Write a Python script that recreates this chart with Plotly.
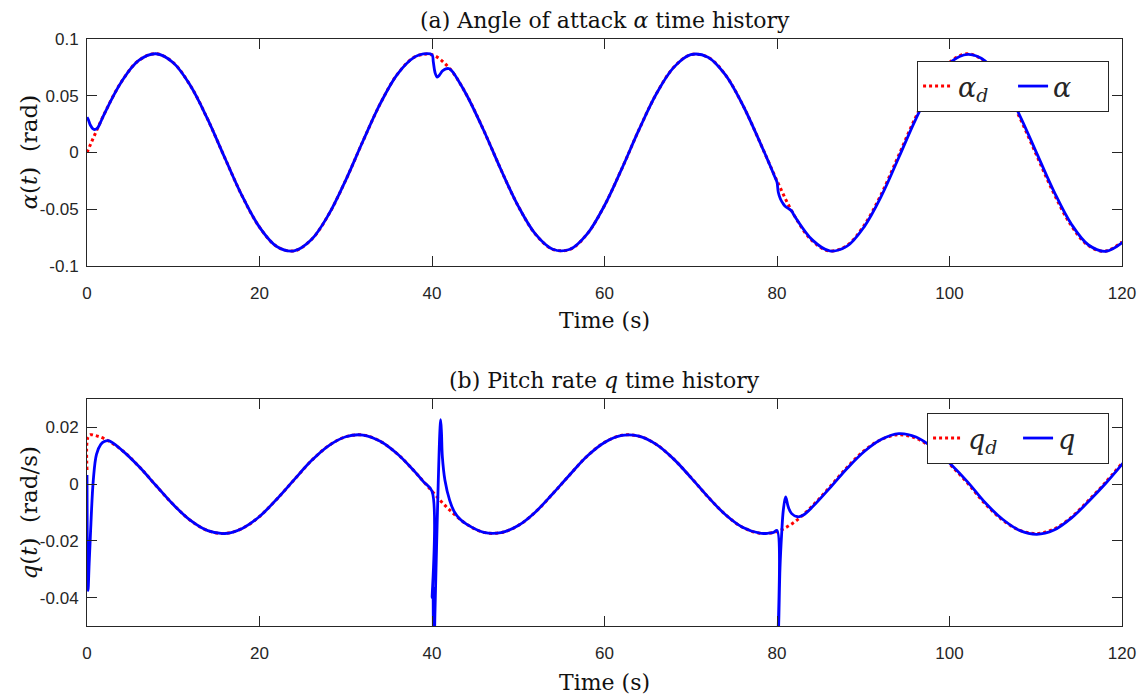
import plotly.graph_objects as go

# ---------------- data ----------------
# (a) desired angle of attack alpha_d (rad)
t_alpha_d = [0, 2, 4, 6, 8, 10, 12, 14, 16, 18, 20, 22, 24, 26, 28, 30, 32, 34, 36, 38,
             40, 42, 44, 46, 48, 50, 52, 54, 56, 58, 60, 62, 64, 66, 68, 70, 72, 74, 76, 78,
             80, 82, 84, 86, 88, 90, 92, 94, 96, 98, 100, 102, 104, 106, 108, 110, 112, 114, 116, 118, 120]
alpha_d = [0.0, 0.0339, 0.0624, 0.0811, 0.0870, 0.0791, 0.0588, 0.0291, -0.0051, -0.0385,
           -0.0658, -0.0828, -0.0867, -0.0769, -0.0549, -0.0243, 0.0101, 0.0430, 0.0691, 0.0842,
           0.0861, 0.0744, 0.0509, 0.0194, -0.0152, -0.0473, -0.0720, -0.0853, -0.0853, -0.0717,
           -0.0467, -0.0144, 0.0201, 0.0515, 0.0748, 0.0862, 0.0840, 0.0686, 0.0423, 0.0094,
           -0.0250, -0.0555, -0.0772, -0.0867, -0.0825, -0.0653, -0.0381, -0.0044, 0.0299, 0.0593,
           0.0794, 0.0869, 0.0808, 0.0617, 0.0330, -0.0008, -0.0345, -0.0630, -0.0815, -0.0870, -0.0788]

# (a) actual angle of attack alpha (rad)
t_alpha = [0, 0.15, 0.4, 0.7, 0.95, 1.2, 1.5, 2,
           4, 6, 8, 10, 12, 14, 16, 18, 20, 22, 24, 26, 28, 30, 32, 34, 36, 38,
           39, 40, 40.15, 40.35, 40.6, 40.85, 41.2, 41.6, 42, 42.5, 43,
           44, 46, 48, 50, 52, 54, 56, 58, 60, 62, 64, 66, 68, 70, 72, 74, 76, 78,
           79, 79.8, 80, 80.15, 80.4, 80.7, 80.95, 81.3, 81.7, 82,
           84.12, 86.12, 88.12, 90.12, 92.12, 94.12, 96.12, 98.12, 100.12, 102.12, 104.12,
           106.12, 108.12, 110.12, 112.12, 114.12, 116.12, 118.12, 120.12]
alpha = [0.031, 0.029, 0.024, 0.0208, 0.0203, 0.0213, 0.0255, 0.0339,
         0.0624, 0.0811, 0.0870, 0.0791, 0.0588, 0.0291, -0.0051, -0.0385, -0.0658, -0.0828,
         -0.0867, -0.0769, -0.0549, -0.0243, 0.0101, 0.0430, 0.0691, 0.0842,
         0.0869, 0.0862, 0.0800, 0.0705, 0.0665, 0.0680, 0.0718, 0.0737, 0.0738, 0.0700, 0.0640,
         0.0509, 0.0194, -0.0152, -0.0473, -0.0720, -0.0853, -0.0853, -0.0717, -0.0467, -0.0144,
         0.0201, 0.0515, 0.0748, 0.0862, 0.0840, 0.0686, 0.0423, 0.0094,
         -0.0080, -0.0225, -0.0262, -0.0350, -0.0410, -0.0450, -0.0474, -0.0492, -0.0515, -0.0555,
         -0.0772, -0.0867, -0.0825, -0.0653, -0.0381, -0.0044, 0.0299, 0.0593, 0.0794, 0.0864,
         0.0808, 0.0617, 0.0330, -0.0008, -0.0345, -0.0630, -0.0815, -0.0870, -0.0788]

# (b) desired pitch rate q_d (rad/s)
t_q_d = [0, 0.1, 0.4, 1, 2, 4, 6, 8, 10, 12, 14, 16, 18, 20, 22, 24, 26, 28, 30, 32, 34, 36, 38,
         40, 42, 44, 46, 48, 50, 52, 54, 56, 58, 60, 62, 64, 66, 68, 70, 72, 74, 76, 78,
         80, 82, 84, 86, 88, 90, 92, 94, 96, 98, 100, 102, 104, 106, 108, 110, 112, 114, 116, 118, 120]
q_d = [0.005, 0.0165, 0.0174, 0.0171, 0.0160, 0.0121, 0.0063, -0.0005, -0.0072, -0.0128,
       -0.0164, -0.0174, -0.0156, -0.0114, -0.0053, 0.0015, 0.0082, 0.0135, 0.0167, 0.0173,
       0.0151, 0.0106, 0.0044, -0.0025, -0.0090, -0.0141, -0.0170, -0.0171, -0.0146, -0.0098,
       -0.0034, 0.0034, 0.0099, 0.0147, 0.0172, 0.0169, 0.0140, 0.0089, 0.0024, -0.0045,
       -0.0107, -0.0152, -0.0173, -0.0167, -0.0134, -0.0080, -0.0014, 0.0055, 0.0115, 0.0156,
       0.0174, 0.0163, 0.0127, 0.0071, 0.0007, -0.0065, -0.0123, -0.0161, -0.0174, -0.0160,
       -0.0120, -0.0061, 0.0003, 0.0074]

# (b) actual pitch rate q (rad/s)
t_q = [0, 0.12, 0.25, 0.42, 0.73, 1.1, 1.6, 2.0, 2.5,
       4, 6, 8, 10, 12, 14, 16, 18, 20, 22, 24, 26, 28, 30, 32, 34, 36, 38,
       39, 40, 40.02, 40.1, 40.2, 40.34, 40.53, 40.73, 40.92, 41.0, 41.1, 41.2, 41.5,
       42.05, 42.6, 43.2,
       44, 46, 48, 50, 52, 54, 56, 58, 60, 62, 64, 66, 68, 70, 72, 74, 76, 78,
       79, 79.6, 80.0, 80.04, 80.19, 80.35, 80.54, 80.73, 81.0, 81.3, 81.7, 82.4, 83.0,
       84.12, 86.12, 88.12, 90.12, 92.12, 94.12, 96.12, 98.12, 100.12, 102.12, 104.12,
       106.12, 108.12, 110.12, 112.12, 114.12, 116.12, 118.12, 120.12]
q = [0.0032, -0.0375, -0.0280, -0.0163, 0.0014, 0.0105, 0.0140, 0.0150, 0.0153,
     0.0121, 0.0063, -0.0005, -0.0072, -0.0128, -0.0164, -0.0174, -0.0156, -0.0114, -0.0053,
     0.0015, 0.0082, 0.0135, 0.0167, 0.0173, 0.0151, 0.0106, 0.0044,
     0.0009, -0.0025, -0.0400, -0.0360, -0.0680, -0.0457, -0.0222, 0.0014, 0.0191, 0.0227,
     0.0180, 0.0097, 0.0014, -0.0057, -0.0098, -0.0122,
     -0.0141, -0.0170, -0.0171, -0.0146, -0.0098, -0.0034, 0.0034, 0.0099, 0.0147, 0.0172,
     0.0169, 0.0140, 0.0089, 0.0024, -0.0045, -0.0107, -0.0152, -0.0173,
     -0.0173, -0.0170, -0.0163, -0.0620, -0.0500, -0.0293, -0.0175, -0.0092, -0.0045,
     -0.0080, -0.0104, -0.0115, -0.0110,
     -0.0080, -0.0014, 0.0055, 0.0115, 0.0158, 0.0178, 0.0166, 0.0127, 0.0071, 0.0007,
     -0.0065, -0.0123, -0.0163, -0.0177, -0.0162, -0.0120, -0.0061, 0.0003, 0.0074]

x_ticks = [0, 20, 40, 60, 80, 100, 120]
x_ticktext = ["0", "20", "40", "60", "80", "100", "120"]
a_ticks = [-0.1, -0.05, 0, 0.05, 0.1]
a_ticktext = ["-0.1", "-0.05", "0", "0.05", "0.1"]
q_ticks = [-0.04, -0.02, 0, 0.02]
q_ticktext = ["-0.04", "-0.02", "0", "0.02"]

# ---------------- styling ----------------
AX = "#262626"
SERIF = "DejaVu Serif"
SANS = "Liberation Sans"
RED = "#FF0000"
BLUE = "#0000FF"

fig = go.Figure()
fig.add_trace(go.Scatter(x=t_alpha_d, y=alpha_d, mode="lines", name="<i>α<sub>d</sub></i>",
                         line=dict(color=RED, width=3, dash="dot", shape="spline"),
                         xaxis="x", yaxis="y", legend="legend"))
fig.add_trace(go.Scatter(x=t_alpha, y=alpha, mode="lines", name="<i>α</i>",
                         line=dict(color=BLUE, width=2.8, shape="spline"),
                         xaxis="x", yaxis="y", legend="legend"))
fig.add_trace(go.Scatter(x=t_q_d, y=q_d, mode="lines", name="<i>q<sub>d</sub></i>",
                         line=dict(color=RED, width=3, dash="dot", shape="spline"),
                         xaxis="x2", yaxis="y2", legend="legend2"))
fig.add_trace(go.Scatter(x=t_q, y=q, mode="lines", name="<i>q</i>",
                         line=dict(color=BLUE, width=2.8, shape="spline"),
                         xaxis="x2", yaxis="y2", legend="legend2"))

common_axis = dict(showline=True, linecolor=AX, linewidth=1, mirror="ticks",
                   ticks="inside", ticklen=10, tickwidth=1, tickcolor=AX,
                   showgrid=False, zeroline=False,
                   tickfont=dict(family=SANS, size=17, color=AX))

fig.update_layout(
    width=1148, height=697,
    margin=dict(l=87, r=21, t=39, b=71),
    paper_bgcolor="white", plot_bgcolor="white",
    showlegend=True,
    xaxis=dict(domain=[0, 1], anchor="y", range=[0, 120], tickvals=x_ticks,
               ticktext=x_ticktext, ticklabelstandoff=12, **common_axis),
    yaxis=dict(domain=[0.6133, 1], anchor="x", range=[-0.1, 0.1], tickvals=a_ticks,
               ticktext=a_ticktext, ticklabelstandoff=4, **common_axis),
    xaxis2=dict(domain=[0, 1], anchor="y2", range=[0, 120], tickvals=x_ticks,
                ticktext=x_ticktext, ticklabelstandoff=12, **common_axis),
    yaxis2=dict(domain=[0, 0.3867], anchor="x2", range=[-0.05, 0.03], tickvals=q_ticks,
                ticktext=q_ticktext, ticklabelstandoff=4, **common_axis),
    legend=dict(x=0.9875, y=0.9625, xanchor="right", yanchor="top", orientation="h",
                bgcolor="white", bordercolor=AX, borderwidth=1,
                font=dict(family=SERIF, size=27, color=AX), entrywidth=50),
    legend2=dict(x=0.9875, y=0.3629, xanchor="right", yanchor="top", orientation="h",
                 bgcolor="white", bordercolor=AX, borderwidth=1,
                 font=dict(family=SERIF, size=27, color=AX), entrywidth=45),
)

title_font = dict(family=SERIF, size=22, color="#111111")
label_font = dict(family=SERIF, size=23, color="#111111")
annotations = [
    dict(text="(a) Angle of attack <i>α</i> time history", x=0.5, xref="x domain",
         y=1, yref="y domain", yanchor="middle", yshift=19, showarrow=False, font=title_font),
    dict(text="(b) Pitch rate <i>q</i> time history", x=0.5, xref="x2 domain",
         y=1, yref="y2 domain", yanchor="middle", yshift=19, showarrow=False, font=title_font),
    dict(text="Time (s)", x=0.5, xref="x domain", y=0, yref="y domain",
         yanchor="middle", yshift=-55, showarrow=False, font=title_font),
    dict(text="Time (s)", x=0.5, xref="x2 domain", y=0, yref="y2 domain",
         yanchor="middle", yshift=-56, showarrow=False, font=title_font),
    dict(text="<i>α</i>(<i>t</i>)\u00a0\u00a0(rad)", x=0, xref="x domain", y=0.5,
         yref="y domain", xanchor="center", yanchor="middle", xshift=-58, textangle=-90,
         showarrow=False, font=label_font),
    dict(text="<i>q</i>(<i>t</i>)\u00a0\u00a0(rad/s)", x=0, xref="x2 domain", y=0.5,
         yref="y2 domain", xanchor="center", yanchor="middle", xshift=-58, textangle=-90,
         showarrow=False, font=label_font),
]
fig.update_layout(annotations=annotations)

fig.write_html("out.html")
